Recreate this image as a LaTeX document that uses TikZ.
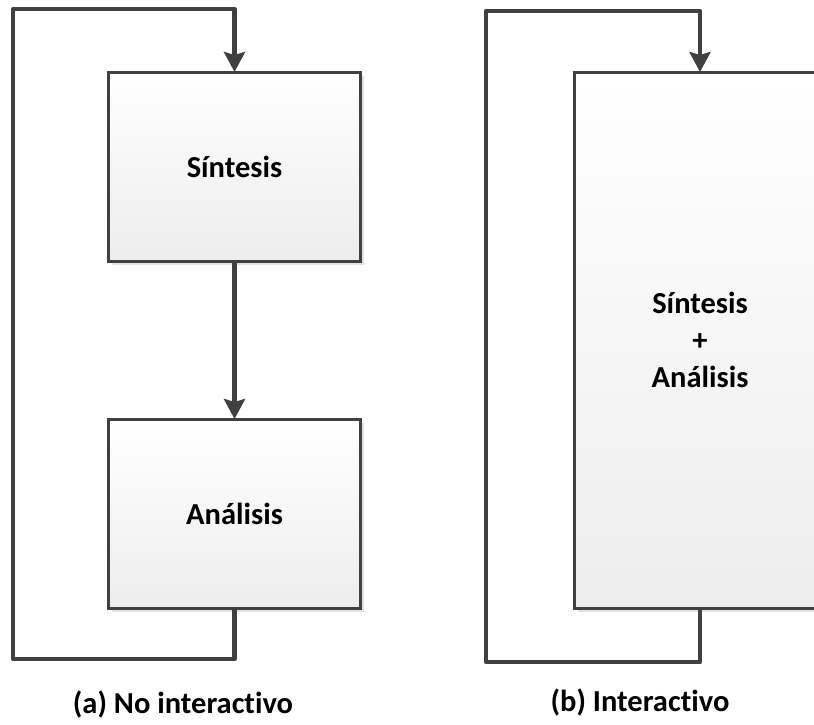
\documentclass[tikz,border=0pt]{standalone}
\usepackage{fontspec}
\setmainfont{Carlito}[Ligatures=NoCommon]
\usetikzlibrary{arrows.meta}
\definecolor{linegray}{HTML}{404040}
\definecolor{shadowgray}{HTML}{E2E2E2}
\tikzset{
  block/.style={draw=linegray, line width=3pt, top color=white, bottom color=black!7,
    outer sep=0pt, inner sep=0pt, font=\bfseries\fontsize{30.5}{37}\selectfont, align=center},
  conn/.style={draw=linegray, line width=4.5pt, line join=round},
  flow/.style={conn, -{Stealth[length=20pt, width=21pt, inset=3pt]}},
  caption/.style={font=\bfseries\fontsize{30.5}{37}\selectfont, inner sep=0pt}
}
\begin{document}
\begin{tikzpicture}[x=1pt, y=-1pt]
  \useasboundingbox (0,0) rectangle (814,724);

  % soft drop shadows behind the boxes
  \fill[shadowgray] (112,76) rectangle (364,265);
  \fill[shadowgray] (112,423) rectangle (364,612);
  \fill[shadowgray] (578,76) rectangle (830,612);

  % (a) separate synthesis and analysis stages
  \node[block, minimum width=252pt, minimum height=189pt] (sin) at (234.5,166.5) {Síntesis};
  \node[block, minimum width=252pt, minimum height=189pt] (ana) at (234.5,513.5) {Análisis};
  \coordinate (aBL) at (13,659);
  \coordinate (aTL) at (13,9);
  \draw[flow] (sin.south) -- (ana.north);
  \draw[flow] (ana.south) |- (aBL) -- (aTL) -| (sin.north);
  \node[caption] (capa) at (183,704) {(a) No interactivo};

  % (b) combined synthesis and analysis
  \node[block, minimum width=252pt, minimum height=536pt] (both) at (700,340) {Síntesis\\+\\Análisis};
  \coordinate (bBL) at (486,662);
  \coordinate (bTL) at (486,11);
  \draw[flow] (both.south) |- (bBL) -- (bTL) -| (both.north);
  \node[caption] (capb) at (640,702) {(b) Interactivo};
\end{tikzpicture}
\end{document}
